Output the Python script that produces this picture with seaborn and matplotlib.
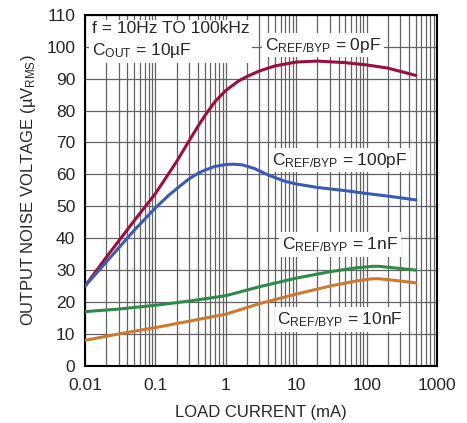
import matplotlib
matplotlib.use("Agg")
import matplotlib.pyplot as plt
from matplotlib.ticker import LogLocator, NullFormatter, FixedLocator
import seaborn as sns
import pandas as pd

# load current (mA) and noise (uVrms)
i_0pF = [0.01, 0.02, 0.05, 0.1, 0.2, 0.3, 0.4, 0.5, 0.7, 1, 1.5, 2, 3, 5, 10, 20, 50, 100, 200, 500]
v_0pF = [25, 34, 45.5, 54, 64, 70.5, 75, 78.3, 82.8, 86.3, 89.2, 90.7, 92.4, 94, 95.2, 95.5, 95, 94.3, 93.3, 91]

i_100pF = [0.01, 0.02, 0.05, 0.1, 0.15, 0.2, 0.3, 0.4, 0.5, 0.7, 1, 1.3, 1.7, 2.5, 4, 7, 10, 20, 50, 100, 200, 500]
v_100pF = [25, 32.5, 42.5, 49.5, 53.2, 55.5, 58.6, 60.3, 61.3, 62.5, 63.1, 63.2, 63, 61.9, 59.8, 57.8, 57, 55.9, 54.9, 54, 53.2, 52]

i_1nF = [0.01, 0.03, 0.1, 0.3, 1, 3, 10, 30, 70, 120, 150, 250, 500]
v_1nF = [17, 17.8, 19, 20.3, 22, 24.8, 27.5, 29.5, 30.7, 31.2, 31.2, 30.7, 30]

i_10nF = [0.01, 0.03, 0.1, 0.3, 1, 3, 10, 30, 70, 120, 150, 250, 500]
v_10nF = [8, 10, 12, 14, 16.2, 19.5, 22.5, 25, 26.6, 27.3, 27.3, 26.8, 26]

series = ["0pF", "100pF", "1nF", "10nF"]
colors = ["#9c0e3c", "#3b5bb2", "#2e8a4a", "#cc7a2f"]

df = pd.concat([
    pd.DataFrame({"I": i_0pF, "V": v_0pF, "cap": "0pF"}),
    pd.DataFrame({"I": i_100pF, "V": v_100pF, "cap": "100pF"}),
    pd.DataFrame({"I": i_1nF, "V": v_1nF, "cap": "1nF"}),
    pd.DataFrame({"I": i_10nF, "V": v_10nF, "cap": "10nF"}),
])

sns.set_style("white")
plt.rcParams["font.family"] = ["Liberation Sans", "DejaVu Sans"]
plt.rcParams["mathtext.fontset"] = "custom"
plt.rcParams["mathtext.rm"] = "Liberation Sans"
plt.rcParams["mathtext.it"] = "Liberation Sans"

fig = plt.figure(figsize=(4.67, 4.23), dpi=100)
ax = fig.add_axes([0.182, 0.135, 0.754, 0.830])

ax.set_xscale("log")
sns.lineplot(data=df, x="I", y="V", hue="cap", hue_order=series,
             palette=colors, linewidth=2.2, legend=False, ax=ax, zorder=3)

ax.set_xlim(0.01, 1000)
ax.set_ylim(0, 110)
ax.xaxis.set_major_locator(FixedLocator([0.01, 0.1, 1, 10, 100, 1000]))
ax.set_xticklabels(["0.01", "0.1", "1", "10", "100", "1000"])
ax.xaxis.set_minor_locator(LogLocator(base=10, subs=range(2, 10)))
ax.xaxis.set_minor_formatter(NullFormatter())
ax.set_yticks(range(0, 111, 10))

ax.grid(True, which="major", color="#626262", linewidth=0.9)
ax.grid(True, which="minor", axis="x", color="#626262", linewidth=0.9)
ax.tick_params(which="both", direction="in", length=3, color="#626262",
               labelsize=12.5)
ax.tick_params(axis="y", pad=7)
ax.tick_params(axis="x", pad=9)
for s in ax.spines.values():
    s.set_linewidth(1.5)
    s.set_color("black")

ax.set_xlabel("LOAD CURRENT (mA)", fontsize=12, labelpad=8)
ax.set_ylabel(r"OUTPUT NOISE VOLTAGE (µV$_{\mathregular{RMS}}$)", fontsize=12, labelpad=6)

box = dict(facecolor="white", edgecolor="none", pad=2)
ax.text(0.0125, 108, "f = 10Hz TO 100kHz\n" + r"C$_{\mathregular{OUT}}$ = 10µF",
        fontsize=12.5, va="top", ha="left", linespacing=1.35, bbox=box, zorder=4)
ax.text(3.6, 100.5, r"C$_{\mathregular{REF/BYP}}$ = 0pF", fontsize=12.5, va="center", bbox=box, zorder=4)
ax.text(4.5, 64.5, r"C$_{\mathregular{REF/BYP}}$ = 100pF", fontsize=12.5, va="center", bbox=box, zorder=4)
ax.text(6.3, 38, r"C$_{\mathregular{REF/BYP}}$ = 1nF", fontsize=12.5, va="center", bbox=box, zorder=4)
ax.text(5.4, 14.5, r"C$_{\mathregular{REF/BYP}}$ = 10nF", fontsize=12.5, va="center", bbox=box, zorder=4)

fig.savefig("out.png", dpi=100)
